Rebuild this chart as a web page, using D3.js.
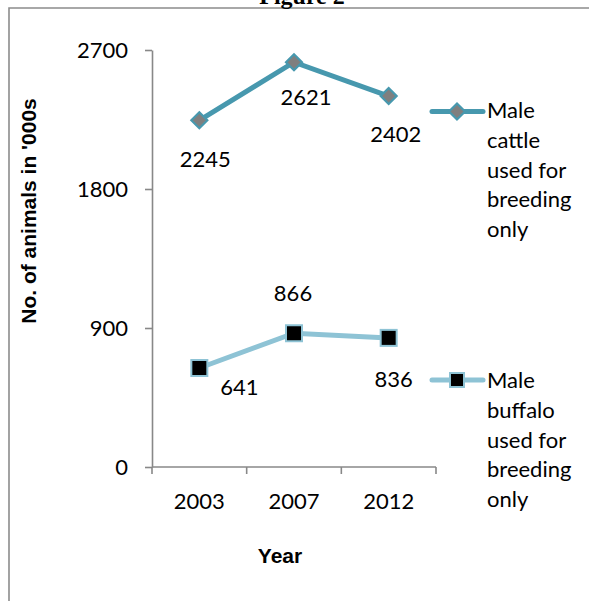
<!DOCTYPE html>
<html>
<head>
<meta charset="utf-8">
<script src="https://cdn.jsdelivr.net/npm/d3@7"></script>
<style>
  html, body { margin: 0; padding: 0; background: #fff; }
  svg { display: block; }
  text { font-family: Lato, "Open Sans", sans-serif; fill: #000; }
</style>
</head>
<body>
<script>
const years = ["2003", "2007", "2012"];
const cattle = [2245, 2621, 2402];
const buffalo = [641, 866, 836];
const yTicks = [0, 900, 1800, 2700];
const cattleName = ["Male", "cattle", "used for", "breeding", "only"];
const buffaloName = ["Male", "buffalo", "used for", "breeding", "only"];
const title = "Figure 2";
const yTitle = "No. of animals in '000s";
const xTitle = "Year";

const W = 589, H = 601;
const svg = d3.select("body").append("svg").attr("width", W).attr("height", H);

// frame
svg.append("path").attr("d", "M9,601 V8 H589").attr("fill", "none")
  .attr("stroke", "#8c8c8c").attr("stroke-width", 1.6);

// partially visible title (cut at top as in the reference)
svg.append("text").attr("x", 302).attr("y", 4).attr("text-anchor", "middle")
  .style("font-family", "'Liberation Serif', serif").style("font-weight", "bold")
  .style("font-size", "24px").text(title);

const x = d3.scaleBand().domain(years).range([152, 436]);
const y = d3.scaleLinear().domain([0, 2700]).range([467, 50]);
const cx = d => x(d) + x.bandwidth() / 2;

// y axis
const yAxis = svg.append("g").attr("transform", "translate(152,0)")
  .call(d3.axisLeft(y).tickValues(yTicks).tickFormat(d3.format("d"))
    .tickSize(7).tickPadding(17).tickSizeOuter(0));
yAxis.select(".domain").attr("stroke", "#888").attr("stroke-width", 1.6);
yAxis.selectAll(".tick line").attr("stroke", "#888").attr("stroke-width", 1.6);
yAxis.selectAll(".tick text").style("font-family", "Lato, sans-serif").style("font-size", "22px").attr("fill", "#000");

// x axis
svg.append("line").attr("x1", 152).attr("x2", 436).attr("y1", y(0)).attr("y2", y(0))
  .attr("stroke", "#888").attr("stroke-width", 1.6);
const edges = years.map(d => x(d)).concat([x(years[years.length - 1]) + x.bandwidth()]);
svg.selectAll(".xt").data(edges).enter().append("line")
  .attr("x1", d => d).attr("x2", d => d).attr("y1", y(0)).attr("y2", y(0) + 7)
  .attr("stroke", "#888").attr("stroke-width", 1.6);
svg.selectAll(".xl").data(years).enter().append("text")
  .attr("x", d => cx(d)).attr("y", 509).attr("text-anchor", "middle")
  .style("font-size", "22px").text(d => d);

// axis titles
svg.append("text").attr("transform", "translate(36,211) rotate(-90)")
  .attr("text-anchor", "middle")
  .style("font-family", "'Liberation Sans Narrow', 'Liberation Sans', Arial, sans-serif")
  .style("font-weight", "bold").style("font-size", "21px").text(yTitle);
svg.append("text").attr("x", 280).attr("y", 563).attr("text-anchor", "middle")
  .style("font-family", "'Liberation Sans Narrow', 'Liberation Sans', Arial, sans-serif")
  .style("font-weight", "bold").style("font-size", "21px").text(xTitle);

const line = d3.line().x((d, i) => cx(years[i])).y(d => y(d));

// cattle series
const cCol = "#4798ae", bCol = "#8ec3d5";
svg.append("path").datum(cattle).attr("d", line).attr("fill", "none")
  .attr("stroke", cCol).attr("stroke-width", 5);
const diamond = s => `M0,${-s} L${s},0 L0,${s} L${-s},0 Z`;
svg.selectAll(".cm").data(cattle).enter().append("path")
  .attr("d", diamond(8)).attr("transform", (d, i) => `translate(${cx(years[i])},${y(d)})`)
  .attr("fill", "#7f7f7f").attr("stroke", cCol).attr("stroke-width", 2.2);

// buffalo series
svg.append("path").datum(buffalo).attr("d", line).attr("fill", "none")
  .attr("stroke", bCol).attr("stroke-width", 5);
svg.selectAll(".bm").data(buffalo).enter().append("rect")
  .attr("x", (d, i) => cx(years[i]) - 8).attr("y", d => y(d) - 8)
  .attr("width", 16).attr("height", 16)
  .attr("fill", "#000").attr("stroke", bCol).attr("stroke-width", 2);

// data labels (offsets relative to points)
const cOff = [[6, 47], [12, 43], [7, 46]];
const bOff = [[40, 27], [-1, -32], [5, 49]];
svg.selectAll(".cl").data(cattle).enter().append("text")
  .attr("x", (d, i) => cx(years[i]) + cOff[i][0]).attr("y", (d, i) => y(d) + cOff[i][1])
  .attr("text-anchor", "middle").style("font-size", "22px").text(d => d);
svg.selectAll(".bl").data(buffalo).enter().append("text")
  .attr("x", (d, i) => cx(years[i]) + bOff[i][0]).attr("y", (d, i) => y(d) + bOff[i][1])
  .attr("text-anchor", "middle").style("font-size", "22px").text(d => d);

// legend
function legend(y0, col, marker, lines, tb) {
  const g = svg.append("g");
  g.append("line").attr("x1", 432).attr("x2", 483).attr("y1", y0).attr("y2", y0)
    .attr("stroke", col).attr("stroke-width", 5).attr("stroke-linecap", "round");
  if (marker === "diamond") {
    g.append("path").attr("d", diamond(8)).attr("transform", `translate(457,${y0})`)
      .attr("fill", "#7f7f7f").attr("stroke", col).attr("stroke-width", 2.2);
  } else {
    g.append("rect").attr("x", 450).attr("y", y0 - 7).attr("width", 14).attr("height", 14)
      .attr("fill", "#000").attr("stroke", col).attr("stroke-width", 2);
  }
  g.selectAll("text").data(lines).enter().append("text")
    .attr("x", 487).attr("y", (d, i) => tb + i * 29.8)
    .style("font-size", "22px").text(d => d);
}
legend(111.5, cCol, "diamond", cattleName, 118);
legend(380, bCol, "square", buffaloName, 388);
</script>
</body>
</html>
